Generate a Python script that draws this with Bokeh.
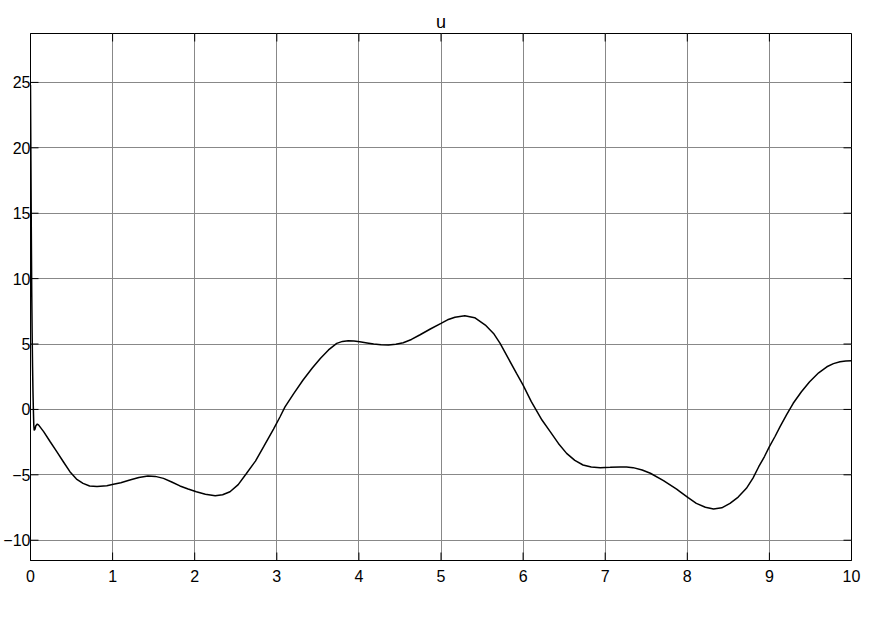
import math
from bokeh.plotting import figure
from bokeh.models import Range1d, FixedTicker
from bokeh.embed import file_html
from bokeh.resources import INLINE

# ---- data ----
t = [0, 0.005, 0.01, 0.015, 0.02, 0.025, 0.03, 0.035, 0.04, 0.045, 0.055, 0.065,
     0.083, 0.1, 0.16, 0.24, 0.32, 0.4, 0.48, 0.56, 0.64, 0.72, 0.81, 0.93,
     1.01, 1.1, 1.21, 1.32, 1.43, 1.52, 1.62, 1.72, 1.82, 1.92, 2.02, 2.13,
     2.25, 2.34, 2.43, 2.53, 2.63, 2.74, 2.84, 2.96, 3.04, 3.10, 3.21, 3.32,
     3.43, 3.53, 3.63, 3.73, 3.80, 3.87, 3.94, 4.01, 4.10, 4.18, 4.27, 4.36,
     4.45, 4.54, 4.64, 4.74, 4.87, 5.0, 5.08, 5.17, 5.29, 5.41, 5.54, 5.64,
     5.72, 5.82, 5.92, 6.0, 6.1, 6.23, 6.33, 6.43, 6.53, 6.63, 6.73,
     6.83, 6.94, 7.06, 7.18, 7.26, 7.34, 7.45, 7.55, 7.71, 7.87, 7.91, 8.01,
     8.11, 8.22, 8.32, 8.42, 8.52, 8.62, 8.72, 8.8, 8.87, 8.94, 9.0, 9.07,
     9.13, 9.21, 9.29, 9.39, 9.49, 9.6, 9.7, 9.78, 9.86, 9.93, 10.0]
u = [24.8, 19.0, 13.5, 9.0, 5.8, 3.3, 1.4, 0.0, -1.2, -1.6, -1.5, -1.25,
     -1.12, -1.2, -1.7, -2.47, -3.23, -4.0, -4.76, -5.32, -5.65, -5.85, -5.9, -5.83,
     -5.72, -5.6, -5.4, -5.2, -5.09, -5.12, -5.27, -5.55, -5.85, -6.08, -6.29, -6.48,
     -6.6, -6.52, -6.29, -5.75, -4.9, -3.95, -2.85, -1.5, -0.56, 0.2, 1.25, 2.25,
     3.15, 3.9, 4.55, 5.05, 5.2, 5.25, 5.23, 5.17, 5.08, 5.0, 4.94, 4.92,
     4.98, 5.1, 5.35, 5.69, 6.15, 6.58, 6.85, 7.05, 7.16, 7.01, 6.45, 5.81,
     5.05, 3.9, 2.76, 1.86, 0.59, -0.81, -1.7, -2.6, -3.36, -3.9, -4.25,
     -4.4, -4.45, -4.43, -4.4, -4.41, -4.45, -4.63, -4.88, -5.45, -6.1, -6.28, -6.75,
     -7.18, -7.48, -7.61, -7.52, -7.18, -6.7, -6.03, -5.25, -4.38, -3.6, -2.85, -2.05,
     -1.32, -0.4, 0.47, 1.35, 2.12, 2.8, 3.26, 3.5, 3.65, 3.71, 3.73]

x_ticks = [0, 1, 2, 3, 4, 5, 6, 7, 8, 9, 10]
y_ticks = [-10, -5, 0, 5, 10, 15, 20, 25]
x_lo, x_hi = 0, 10
y_lo, y_hi = -11.55, 28.74
title_text = "u"

FONT = "Liberation Sans"

p = figure(width=867, height=603, output_backend="svg", toolbar_location=None,
           x_range=Range1d(x_lo, x_hi), y_range=Range1d(y_lo, y_hi),
           title=title_text, min_border_left=0, min_border_right=16,
           min_border_bottom=43, min_border_top=33)

p.background_fill_color = "white"
p.border_fill_color = "white"
p.outline_line_color = "black"
p.outline_line_width = 1

p.title.align = "center"
p.title.text_font = FONT
p.title.text_font_size = "18px"
p.title.text_font_style = "normal"
p.title.text_color = "black"
p.title.standoff = 3

for ax, ticks in ((p.xaxis[0], x_ticks), (p.yaxis[0], y_ticks)):
    ax.ticker = FixedTicker(ticks=ticks)
    ax.major_tick_in = 0
    ax.major_tick_out = 0
    ax.minor_tick_in = 0
    ax.minor_tick_out = 0
    ax.axis_label_standoff = 0
    ax.axis_line_color = "black"
    ax.major_label_text_font = FONT
    ax.major_label_text_font_size = "16px"
    ax.major_label_text_color = "black"
p.xaxis.major_label_standoff = 9
p.yaxis.major_label_standoff = 0

p.xgrid.ticker = FixedTicker(ticks=x_ticks)
p.ygrid.ticker = FixedTicker(ticks=y_ticks)
p.grid.grid_line_color = "#888888"
p.grid.grid_line_width = 1

# inward ticks on all four edges (half of each dash is clipped by the frame)
for xs, ys, ang in ((x_ticks, [y_hi] * len(x_ticks), math.pi / 2),
                    (x_ticks, [y_lo] * len(x_ticks), math.pi / 2),
                    ([x_hi] * len(y_ticks), y_ticks, 0),
                    ([x_lo] * len(y_ticks), y_ticks, 0)):
    p.scatter(x=xs, y=ys, marker="dash", angle=ang, size=16,
              line_color="black", line_width=1)

p.line(t, u, line_color="black", line_width=1.5)

open("out.html", "w").write(file_html(p, INLINE))
